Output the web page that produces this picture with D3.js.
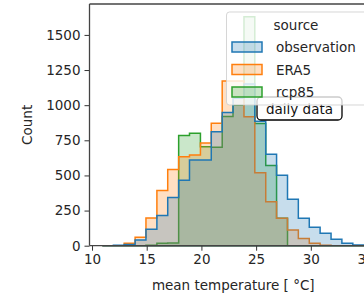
<!DOCTYPE html>
<html>
<head>
<meta charset="utf-8">
<script src="https://cdn.jsdelivr.net/npm/d3@7"></script>
<style>
  body { margin: 0; background: #fff; }
  svg { display: block; font-family: "DejaVu Sans", sans-serif; }
</style>
</head>
<body>
<div id="chart"></div>
<script>
// bin edges (degC) shared by all three sources
var binEdges = [10.95, 11.95, 12.94, 13.94, 14.93, 15.93, 16.92, 17.92, 18.91, 19.91, 20.9, 21.9, 22.89,
                23.89, 24.88, 25.88, 26.87, 27.87, 28.86, 29.86, 30.85, 31.85, 32.84, 33.84, 34.83, 35.83];
var sources = ["observation", "ERA5", "rcp85"];
var obsCounts  = [0, 3, 8, 40, 117, 215, 343, 465, 610, 610, 811, 947, 1050, 1150, 885, 650, 502, 330, 195, 131, 88, 46, 17, 5, 1];
var era5Counts = [0, 0, 17, 60, 197, 393, 542, 633, 645, 730, 871, 1172, 1172, 918, 520, 313, 195, 112, 52, 17, 3, 0, 0, 0, 0];
var rcpCounts  = [0, 0, 0, 0, 3, 17, 20, 785, 800, 705, 700, 920, 1000, 1630, 870, 570, 195, 0, 0, 0, 0, 0, 0, 0, 0];
var xTicks = [10, 15, 20, 25, 30, 35];
var yTicks = [0, 250, 500, 750, 1000, 1250, 1500];

var cfg = { w: 364, h: 298, left: 89.5, right: 377, top: 4, bottom: 245.7 };
var colors = ["#1f77b4", "#ff7f0e", "#2ca02c"];

var x = d3.scaleLinear().domain([9.77, 36.05]).range([cfg.left, cfg.right]);
var y = d3.scaleLinear().domain([0, 1720]).range([cfg.bottom, cfg.top]);

var svg = d3.select("#chart").append("svg")
    .attr("width", cfg.w)
    .attr("height", cfg.h);

var series = [
    { name: sources[0], counts: obsCounts, color: colors[0] },
    { name: sources[1], counts: era5Counts, color: colors[1] },
    { name: sources[2], counts: rcpCounts, color: colors[2] }
];

var stepLine = d3.line()
    .x(function(d) { return x(d[0]); })
    .y(function(d) { return y(d[1]); })
    .curve(d3.curveStepAfter);

function stepPoints(counts) {
    var pts = [[binEdges[0], 0]];
    counts.forEach(function(c, i) { pts.push([binEdges[i], c]); });
    pts.push([binEdges[binEdges.length - 1], counts[counts.length - 1]]);
    pts.push([binEdges[binEdges.length - 1], 0]);
    return pts;
}

var plot = svg.append("g");
// seaborn draws the hue levels in reverse order
series.slice().reverse().forEach(function(s) {
    plot.append("path")
        .attr("d", stepLine(stepPoints(s.counts)) + "Z")
        .attr("fill", s.color)
        .attr("fill-opacity", 0.25)
        .attr("stroke", s.color)
        .attr("stroke-width", 1.5)
        .attr("stroke-linejoin", "miter");
});

// axes
var xAxis = svg.append("g")
    .attr("transform", "translate(0," + cfg.bottom + ")")
    .call(d3.axisBottom(x).tickValues(xTicks).tickFormat(d3.format("d")).tickSize(5).tickPadding(4));
var yAxis = svg.append("g")
    .attr("transform", "translate(" + cfg.left + ",0)")
    .call(d3.axisLeft(y).tickValues(yTicks).tickFormat(d3.format("d")).tickSize(5).tickPadding(4));
[xAxis, yAxis].forEach(function(a) {
    a.select(".domain").remove();
    a.selectAll("line").attr("stroke", "#333").attr("stroke-width", 1);
    a.selectAll("text").attr("fill", "#262626").style("font-size", "13.5px")
        .style("font-family", "DejaVu Sans, sans-serif");
});

// spines
svg.append("line").attr("x1", cfg.left).attr("x2", cfg.left).attr("y1", cfg.top).attr("y2", cfg.bottom)
    .attr("stroke", "#444").attr("stroke-width", 1.3);
svg.append("line").attr("x1", cfg.left).attr("x2", cfg.right).attr("y1", cfg.bottom).attr("y2", cfg.bottom)
    .attr("stroke", "#444").attr("stroke-width", 1.3);
svg.append("line").attr("x1", cfg.left).attr("x2", cfg.right).attr("y1", cfg.top).attr("y2", cfg.top)
    .attr("stroke", "#444").attr("stroke-width", 1.3);

// axis labels
svg.append("text")
    .attr("x", (cfg.left + cfg.right) / 2)
    .attr("y", 290)
    .attr("text-anchor", "middle")
    .attr("fill", "#262626")
    .style("font-size", "13.5px")
    .text("mean temperature [ °C]");
svg.append("text")
    .attr("transform", "translate(32," + ((cfg.top + cfg.bottom) / 2) + ") rotate(-90)")
    .attr("text-anchor", "middle")
    .attr("fill", "#262626")
    .style("font-size", "13.5px")
    .text("Count");

// "daily data" annotation box
svg.append("rect")
    .attr("x", 257).attr("y", 97).attr("width", 85).attr("height", 23)
    .attr("rx", 4)
    .attr("fill", "#fff").attr("stroke", "#000").attr("stroke-width", 1.3);
svg.append("text")
    .attr("x", 299.5).attr("y", 113.5)
    .attr("text-anchor", "middle")
    .attr("fill", "#111")
    .style("font-size", "13.5px")
    .text("daily data");

// legend
var legend = svg.append("g");
legend.append("rect")
    .attr("x", 226.5).attr("y", 12).attr("width", 160).attr("height", 93)
    .attr("rx", 3)
    .attr("fill", "#fff").attr("fill-opacity", 0.8)
    .attr("stroke", "#ccc").attr("stroke-opacity", 0.8);
legend.append("text")
    .attr("x", 296).attr("y", 30)
    .attr("text-anchor", "middle")
    .attr("fill", "#262626")
    .style("font-size", "13.5px")
    .text("source");
series.forEach(function(s, i) {
    var cy = 47 + i * 22.5;
    legend.append("rect")
        .attr("x", 232).attr("y", cy - 5).attr("width", 30).attr("height", 10)
        .attr("fill", s.color).attr("fill-opacity", 0.25)
        .attr("stroke", s.color).attr("stroke-width", 1.5);
    legend.append("text")
        .attr("x", 276).attr("y", cy + 5)
        .attr("fill", "#262626")
        .style("font-size", "13.5px")
        .text(s.name);
});
</script>
</body>
</html>
